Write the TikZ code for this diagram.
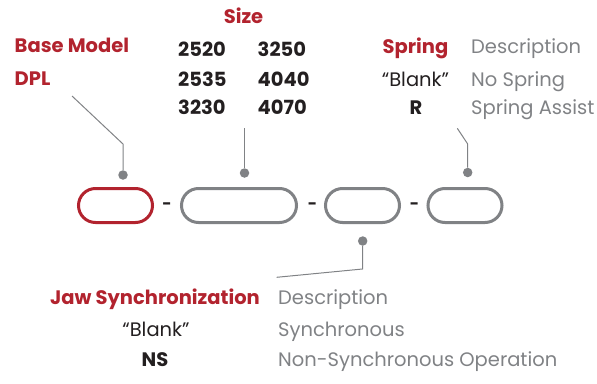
\documentclass[tikz,border=0pt]{standalone}
\usepackage{fontspec}
\setmainfont{Poppins}
\usetikzlibrary{positioning}
\definecolor{CodeRed}  {HTML}{B2232E}
\definecolor{CodeGray} {HTML}{808285}
\definecolor{CodeBlack}{HTML}{231F20}
\begin{document}
\begin{tikzpicture}[x=1pt,y=-1pt,
  pill/.style={draw=CodeGray,line width=3pt,rounded corners=17pt,
    minimum height=34pt,minimum width=74pt,inner sep=0pt},
  leader/.style={CodeGray,line width=1pt},
  dot/.style={circle,fill=CodeGray,inner sep=0pt,minimum size=9.5pt},
  head/.style={font=\fontsize{19.5}{22}\selectfont\bfseries,
    text=CodeRed,inner sep=0pt},
  code/.style={font=\fontsize{19.5}{22}\selectfont\bfseries,
    text=CodeBlack,inner sep=0pt},
  plain/.style={font=\fontsize{19.5}{22}\selectfont,
    text=CodeBlack,inner sep=0pt},
  desc/.style={font=\fontsize{19.5}{22}\selectfont,
    text=CodeGray,inner sep=0pt}]
  \useasboundingbox (0,0) rectangle (597,383);
  % Model code boxes
  \node[pill,draw=CodeRed] (base) at (115.5,205.5) {};
  \node[pill,minimum width=115pt] (size) at (239,205.5) {};
  \node[pill] (jaw) at (362.5,205.5) {};
  \node[pill] (spring) at (465,205.5) {};
  \node[code,font=\fontsize{16}{18}\selectfont\bfseries] (dashA) at (167,206.5) {-};
  \node[code,font=\fontsize{16}{18}\selectfont\bfseries] (dashB) at (312.5,206.5) {-};
  \node[code,font=\fontsize{16}{18}\selectfont\bfseries] (dashC) at (414.5,206.5) {-};
  % Base model
  \node[head,anchor=base west] (basehead) at (14.5,52) {Base Model};
  \node[head,anchor=base west] (dpl) at (14.5,85) {DPL};
  \node[dot] (basedot) at (123,175) {};
  \coordinate (basebend) at (123,144);
  \coordinate (baseend) at (72,96);
  \draw[leader] (basedot) -- (basebend) -- (baseend);
  % Size
  \node[head,anchor=base] (sizehead) at (243.5,23) {Size};
  \foreach \row/\ya/\yb [count=\i] in {56.7/2520/3250,86/2535/4040,114.3/3230/4070}{
    \node[code,anchor=base west] (sizeA\i) at (178,\row) {\ya};
    \node[code,anchor=base west] (sizeB\i) at (257.5,\row) {\yb};
  }
  \node[dot] (sizedot) at (244.5,173) {};
  \coordinate (sizeend) at (244.5,128);
  \draw[leader] (sizedot) -- (sizeend);
  % Spring
  \node[head,anchor=base] (springhead) at (415.5,53) {Spring};
  \node[desc,anchor=base west] (springdesc) at (471,53) {Description};
  \node[plain,anchor=base] (springblank) at (415.5,86) {“Blank”};
  \node[desc,anchor=base west] (springno) at (471,86) {No Spring};
  \node[code,anchor=base] (springR) at (416,114.3) {R};
  \node[desc,anchor=base west] (springassist) at (471,114.3) {Spring Assist};
  \node[dot] (springdot) at (467.7,172.5) {};
  \coordinate (springbend) at (467.7,144);
  \coordinate (springend) at (457.3,128.3);
  \draw[leader] (springdot) -- (springbend) -- (springend);
  % Jaw synchronization
  \node[dot] (jawdot) at (362.7,241) {};
  \coordinate (jawbend) at (362.5,269);
  \coordinate (jawend) at (276.7,277.3);
  \draw[leader] (jawdot) -- (jawbend) -- (jawend);
  \node[head,anchor=base] (jawhead) at (155,304) {Jaw Synchronization};
  \node[desc,anchor=base west] (jawdesc) at (278,304) {Description};
  \node[plain,anchor=base] (jawblank) at (156,336.5) {“Blank”};
  \node[desc,anchor=base west] (jawsync) at (278,336.5) {Synchronous};
  \node[code,anchor=base] (jawNS) at (155,366.7) {NS};
  \node[desc,anchor=base west] (jawnon) at (278,366.7) {Non-Synchronous Operation};
\end{tikzpicture}
\end{document}
